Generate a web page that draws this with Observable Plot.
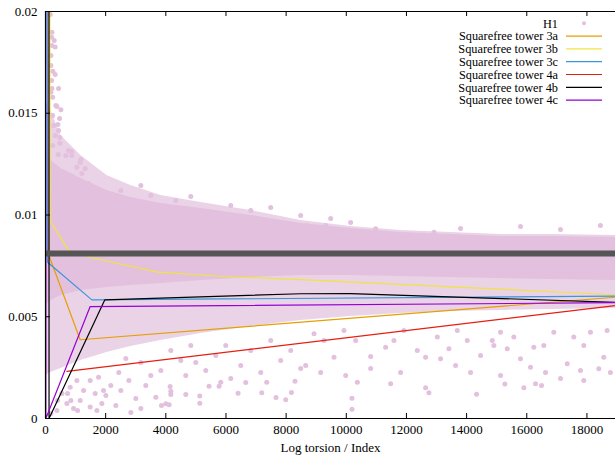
<!DOCTYPE html>
<html><head><meta charset="utf-8">
<script src="https://cdn.jsdelivr.net/npm/d3@7"></script>
<script src="https://cdn.jsdelivr.net/npm/@observablehq/plot@0.6"></script>
<style>
body{margin:0;background:#fff;}
#chart{position:relative;width:615px;height:459px;}
</style></head><body><div id="chart"></div>
<script>
// ---- axes ----
const xTicks = [0,2000,4000,6000,8000,10000,12000,14000,16000,18000];
const yTicks = [0,0.005,0.01,0.015,0.02];
const yTickLabels = ["0","0.005","0.01","0.015","0.02"];
const xLabel = "Log torsion / Index";

// ---- legend ----
const seriesNames = ["Squarefree tower 3a","Squarefree tower 3b","Squarefree tower 3c","Squarefree tower 4a","Squarefree tower 4b","Squarefree tower 4c"];
const seriesColors = ["#e69f00","#f0e442","#3a97d8","#e51e10","#000000","#9400d3"];
const h1Name = "H1";
const h1Color = "#e2c0de";

// ---- tower series (vertices) ----
const t3aX = [75, 90, 1153, 18950];
const t3aY = [0.03, 0.00811, 0.00387, 0.00596];
const t3bX = [130, 156, 767, 1508, 3734, 5827, 8484, 18950];
const t3bY = [0.03, 0.00970, 0.00826, 0.00791, 0.00719, 0.00699, 0.00682, 0.00608];
const t3cX = [45, 70, 1541, 18950];
const t3cY = [0.03, 0.00768, 0.00583, 0.00601];
const t4aX = [711, 18950];
const t4aY = [0.00232, 0.00555];
const t4bX = [115, 118, 1973, 8484, 10145, 18950];
const t4bY = [0.03, 0, 0.00583, 0.00613, 0.00614, 0.00571];
const t4cX = [8, 12, 1485, 18950];
const t4cY = [0.03, 0, 0.00550, 0.00569];
const towersX = [t3aX, t3bX, t3cX, t4aX, t4bX, t4cX];
const towersY = [t3aY, t3bY, t3cY, t4aY, t4bY, t4cY];

// ---- mean level (thick gray) ----
const meanLevel = 0.00811;

// ---- H1 cloud: dense band envelopes ----
const bandX      = [0, 179, 512, 1176, 2040, 2837, 3834, 5163, 6824, 8484, 10145, 11806, 13467, 15128, 16789, 18950];
const coreHi     = [0.01317,0.01268,0.01228,0.01179,0.01120,0.01086,0.01057,0.01032,0.00998,0.00958,0.00934,0.00914,0.00904,0.00894,0.00894,0.00889];
const coreLo     = [0.00555,0.00580,0.00604,0.00629,0.00644,0.00654,0.00663,0.00678,0.00693,0.00703,0.00703,0.00698,0.00693,0.00688,0.00683,0.00678];
const softHi     = [0.01563,0.01514,0.01391,0.01292,0.01194,0.01145,0.01096,0.01061,0.01022,0.00973,0.00943,0.00924,0.00914,0.00904,0.00904,0.00899];
const softLo     = [0.00211,0.00226,0.00246,0.00285,0.00324,0.00354,0.00383,0.00418,0.00452,0.00482,0.00501,0.00516,0.00526,0.00531,0.00536,0.00541];

// ---- H1 cloud: sparse points ----
const h1X = [156,213,203,289,213,322,179,179,246,322,203,213,435,179,236,346,379,512,236,468,269,412,435,322,478,236,422,678,867,1176,478,767,877,1153,1043,1319,1209,1432,1598,1764,1930,2505,3169,3501,4332,4830,6159,6824,7488,8484,9481,10145,8684,8816,9125,9315,10976,12915,13799,15792,17121,18449,
 179,402,734,1066,844,379,711,933,1153,1485,1707,1874,1651,1266,820,545,1930,1043,1485,1764,2006,2172,2339,2505,2771,3003,3169,3335,3501,2837,2438,3668,3857,4000,4110,4143,4166,4166,4664,5129,5129,5438,5771,5827,6402,7189,7355,7664,7986,8175,8295,10189,10189,10368,11474,12637,12747,14331,15272,15903,16292,16491,17896,
 4166,4498,4830,5329,5661,5993,6491,6824,7156,7488,7820,8152,8484,4664,6159,4996,3834,3169,2671,6657,
 8927,9259,9591,9923,10311,10810,11308,11584,11916,12361,12637,13026,13135,13411,13690,14022,14464,14853,14906,15128,15351,15570,15792,16124,16235,16567,16899,17344,17564,17896,18118,18560,18673,18394,
 8650,9149,9979,10810,11806,13633,14131,15128,16623,17121,17785,18781];
const h1Y = [0.01985,0.01898,0.01874,0.01857,0.01833,0.01825,0.01784,0.01735,0.01707,0.01690,0.01661,0.01622,0.01622,0.01603,0.01579,0.01538,0.01533,0.01517,0.01489,0.01474,0.01440,0.01445,0.01415,0.01391,0.01381,0.01342,0.01297,0.01292,0.01312,0.01273,0.01353,0.01317,0.01292,0.01259,0.01235,0.01228,0.01204,0.01155,0.01112,0.01096,0.01081,0.01120,0.01145,0.01096,0.01071,0.01091,0.01047,0.01022,0.01037,0.00998,0.00983,0.00963,0.00948,0.00932,0.00940,0.00948,0.00932,0.00915,0.00934,0.00943,0.00929,0.00948,
 0.00025,0.00088,0.00123,0.00039,0.00088,0.00039,0.00074,0.00049,0.00088,0.00056,0.00039,0.00074,0.00123,0.00138,0.00154,0.00123,0.00138,0.00187,0.00187,0.00203,0.00113,0.00162,0.00064,0.00138,0.00187,0.00098,0.00049,0.00162,0.00211,0.00029,0.00226,0.00105,0.00064,0.00072,0.00067,0.00157,0.00134,0.00118,0.00118,0.00110,0.00075,0.00159,0.00159,0.00178,0.00124,0.00126,0.00178,0.00103,0.00092,0.00128,0.00183,0.00100,0.00046,0.00178,0.00171,0.00151,0.00126,0.00119,0.00169,0.00151,0.00171,0.00162,0.00187,
 0.00334,0.00285,0.00359,0.00236,0.00310,0.00359,0.00260,0.00334,0.00226,0.00383,0.00285,0.00334,0.00246,0.00211,0.00197,0.00275,0.00236,0.00275,0.00295,0.00177,
 0.00416,0.00383,0.00301,0.00432,0.00383,0.00305,0.00350,0.00383,0.00432,0.00334,0.00301,0.00400,0.00293,0.00343,0.00432,0.00383,0.00310,0.00383,0.00359,0.00424,0.00343,0.00400,0.00293,0.00252,0.00350,0.00359,0.00424,0.00269,0.00400,0.00359,0.00424,0.00301,0.00432,0.00244,
 0.00260,0.00226,0.00211,0.00246,0.00226,0.00260,0.00226,0.00211,0.00226,0.00197,0.00236,0.00226];

// ---- build tables ----
const band = bandX.map((x,i)=>({x, coreHi: coreHi[i], coreLo: coreLo[i], softHi: softHi[i], softLo: softLo[i]}));
const h1 = h1X.map((x,i)=>({x, y: h1Y[i]}));
const towers = [];
towersX.forEach((xs,s)=>xs.forEach((x,i)=>towers.push({series: seriesNames[s], x, y: towersY[s][i]})));

const W = 615, H = 459, mL = 45, mT = 11, mB = 41, mR = 0;
const plotW = W - mL - mR, plotH = H - mT - mB;
const font = "Liberation Serif, Times New Roman, serif";

const chart = Plot.plot({
  width: W, height: H,
  marginLeft: mL, marginTop: mT, marginBottom: mB, marginRight: mR,
  style: {fontFamily: font, fontSize: "13px", background: "white", color: "black"},
  x: {domain: [0, 18950]},
  y: {domain: [0, 0.02]},
  marks: [
    Plot.areaY(band, {x: "x", y1: "softLo", y2: "softHi", fill: h1Color, fillOpacity: 0.72}),
    Plot.areaY(band, {x: "x", y1: "coreLo", y2: "coreHi", fill: h1Color}),
    Plot.dot(h1, {x: "x", y: "y", r: 2.5, fill: h1Color, stroke: "none"}),
    Plot.line(towers, {x: "x", y: "y", z: "series", stroke: d => seriesColors[seriesNames.indexOf(d.series)], strokeWidth: 1.2, clip: true}),
    Plot.ruleY([meanLevel], {stroke: "#555555", strokeWidth: 6}),
    // frame (left, bottom, top)
    Plot.ruleX([0], {stroke: "black", strokeWidth: 1.2}),
    Plot.ruleY([0, 0.02], {stroke: "black", strokeWidth: 1.2}),
    // inward ticks
    Plot.ruleX(xTicks, {x: d => d, insetTop: plotH - 5, stroke: "black"}),
    Plot.ruleX(xTicks, {x: d => d, insetBottom: plotH - 5, stroke: "black"}),
    Plot.ruleY(yTicks, {y: d => d, insetRight: plotW - 5, stroke: "black"}),
    Plot.axisX({ticks: xTicks, tickSize: 0, tickPadding: 6, tickFormat: d => String(d), label: null}),
    Plot.axisY({ticks: yTicks, tickSize: 0, tickPadding: 8, tickFormat: d => yTickLabels[yTicks.indexOf(d)], label: null}),
    Plot.text([xLabel], {text: d => d, frameAnchor: "bottom", dy: 33})
  ]
});

// legend inside the plot, top-right (gnuplot style key)
const svg = d3.select(chart.tagName.toLowerCase() === "svg" ? chart : chart.querySelector("svg"));
const lg = svg.append("g").attr("font-family", font).attr("font-size", 12.3);
const rows = [{name: h1Name, color: h1Color, dot: true}].concat(seriesNames.map((n,i)=>({name: n, color: seriesColors[i]})));
rows.forEach((r,i)=>{
  const cy = 23.3 + i*12.8;
  lg.append("text").attr("x", 558).attr("y", cy).attr("dy", "0.35em").attr("text-anchor", "end").attr("fill", "black").text(r.name);
  if (r.dot) lg.append("circle").attr("cx", 584).attr("cy", cy).attr("r", 2).attr("fill", r.color);
  else lg.append("line").attr("x1", 566).attr("x2", 602).attr("y1", cy).attr("y2", cy).attr("stroke", r.color).attr("stroke-width", 1.2);
});

document.getElementById("chart").appendChild(chart);
</script></body></html>
